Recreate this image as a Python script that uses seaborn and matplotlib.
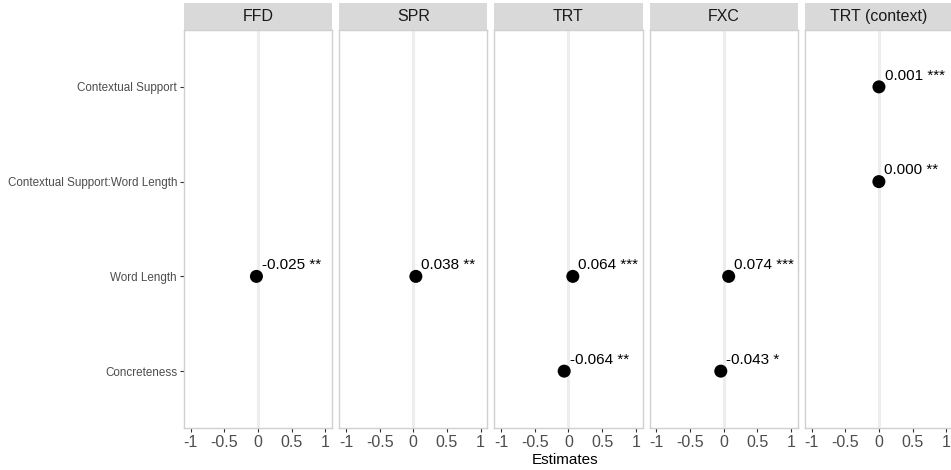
import pandas as pd
import matplotlib
matplotlib.use("Agg")
import matplotlib.pyplot as plt
import seaborn as sns
from matplotlib.patches import Rectangle

# data
models = ["FFD", "SPR", "TRT", "FXC", "TRT (context)"]
terms = ["Concreteness", "Word Length", "Contextual Support:Word Length", "Contextual Support"]

model_col = ["FFD", "SPR", "TRT", "TRT", "FXC", "FXC", "TRT (context)", "TRT (context)"]
term_col = ["Word Length", "Word Length", "Word Length", "Concreteness",
            "Word Length", "Concreteness", "Contextual Support", "Contextual Support:Word Length"]
estimates = [-0.025, 0.038, 0.064, -0.064, 0.074, -0.043, 0.001, 0.000]
stars = ["**", "**", "***", "**", "***", "*", "***", "**"]

df = pd.DataFrame({"model": model_col, "term": term_col, "estimate": estimates, "p": stars})
df["pos"] = df["term"].map({t: i for i, t in enumerate(terms)})
df["label"] = [f"{e:.3f} {s}" for e, s in zip(df["estimate"], df["p"])]

sns.set_style("white")
plt.rcParams["font.family"] = ["Liberation Sans", "DejaVu Sans"]

g = sns.FacetGrid(df, col="model", col_order=models, sharey=True, sharex=True,
                  height=4.7, aspect=0.4, despine=False)
g.figure.set_size_inches(9.51, 4.70)
g.figure.subplots_adjust(left=184 / 951, right=953 / 951, top=1 - 30 / 470,
                         bottom=1 - 428 / 470, wspace=0.047)

for ax, m in zip(g.axes.flat, models):
    sub = df[df["model"] == m]
    ax.axvline(0, color="#EDEDED", lw=2.2, zorder=0)
    sns.scatterplot(data=sub, x="estimate", y="pos", ax=ax, color="black",
                    s=88, edgecolor="none", zorder=3)
    for _, r in sub.iterrows():
        ax.annotate(r["label"], (r["estimate"], r["pos"]), xytext=(4, 3),
                    textcoords="offset points", ha="left", va="bottom",
                    fontsize=11, color="black")
    ax.set_xlim(-1.1, 1.1)
    ax.set_ylim(-0.6, 3.6)
    ax.set_xticks([-1, -0.5, 0, 0.5, 1])
    ax.set_xticklabels(["-1", "-0.5", "0", "0.5", "1"])
    ax.set_yticks(range(len(terms)))
    ax.set_yticklabels(terms)
    ax.tick_params(axis="x", labelsize=11.5, labelcolor="#4D4D4D", color="#333333",
                   length=3, width=0.8, pad=2, bottom=True)
    ax.tick_params(axis="y", labelsize=8.35, labelcolor="#4D4D4D", color="#333333",
                   length=3, width=0.8, pad=2, left=True)
    for sp in ax.spines.values():
        sp.set_color("#D0D0D0")
        sp.set_linewidth(1)
    ax.set_xlabel("")
    ax.set_ylabel("")
    ax.set_title("")
    # strip header
    ax.add_patch(Rectangle((0, 1.0), 1, 27 / 398, transform=ax.transAxes,
                           facecolor="#D9D9D9", edgecolor="none", clip_on=False))
    ax.text(0.5, 1 + 13.5 / 398, m, transform=ax.transAxes, ha="center",
            va="center", fontsize=11.5, color="#1A1A1A")

for ax in g.axes.flat[1:]:
    ax.tick_params(axis="y", left=False, labelleft=False)

g.figure.text(565 / 951, 1 - 460 / 470, "Estimates", ha="center", va="center",
              fontsize=11, color="black")

g.figure.savefig("out.png", dpi=100)
